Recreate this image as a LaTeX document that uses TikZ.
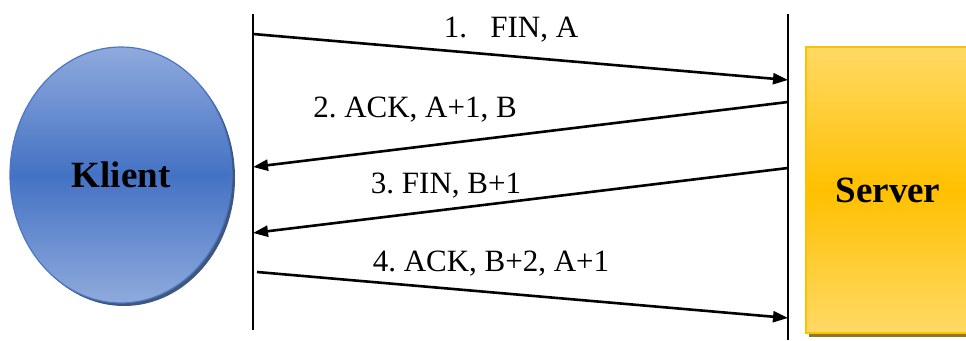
\documentclass[tikz,border=0pt]{standalone}
\usepackage{fontspec}
\setmainfont{Liberation Serif}
\usetikzlibrary{shapes.geometric,arrows.meta,shadows}
\definecolor{blueA}{HTML}{8FAADC}
\definecolor{blueB}{HTML}{4472C4}
\definecolor{blueEdge}{HTML}{4A76C6}
\definecolor{blueShadow}{HTML}{1F3864}
\definecolor{yelA}{HTML}{FFD966}
\definecolor{yelB}{HTML}{FFC000}
\definecolor{yelShadow}{HTML}{7F6000}
\frenchspacing
\begin{document}
\begin{tikzpicture}[x=1pt,y=-1pt,
  party/.style={font=\fontsize{37}{40}\selectfont\bfseries, inner sep=0pt},
  lifeline/.style={line width=1.8pt},
  msg/.style={line width=2.6pt, -{Triangle[length=15pt,width=11pt]}},
  lbl/.style={font=\fontsize{31}{34}\selectfont, inner sep=0pt}]
\useasboundingbox (0,0) rectangle (966,340);
% Klient
\node[party, ellipse, draw=blueEdge, line width=1.2pt,
  minimum width=222pt, minimum height=256pt,
  top color=blueA, bottom color=blueA, middle color=blueB,
  drop shadow={shadow xshift=3pt, shadow yshift=-3pt, fill=blueShadow, opacity=.85}]
  (klient) at (121,175) {Klient};
% Server
\node[party, rectangle, draw=yelB, line width=1.2pt,
  minimum width=164pt, minimum height=286pt,
  top color=yelA, bottom color=yelA, middle color=yelB,
  drop shadow={shadow xshift=3pt, shadow yshift=-4pt, fill=yelShadow, opacity=.85}]
  (server) at (888,190) {Server};
% lifelines
\coordinate (lt) at (253,14);
\coordinate (lb) at (253,330);
\coordinate (rt) at (788,14);
\coordinate (rb) at (788,340);
\draw[lifeline] (lt) -- (lb);
\draw[lifeline] (rt) -- (rb);
% message end points
\coordinate (m1s) at (253,34);  \coordinate (m1e) at (788,80);
\coordinate (m2s) at (788,102); \coordinate (m2e) at (253,167);
\coordinate (m3s) at (788,168); \coordinate (m3e) at (253,233);
\coordinate (m4s) at (257,272); \coordinate (m4e) at (788,318);
\draw[msg] (m1s) -- (m1e);
\draw[msg] (m2s) -- (m2e);
\draw[msg] (m3s) -- (m3e);
\draw[msg] (m4s) -- (m4e);
% labels
\node[lbl] (l1) at (511,30) {1.\ \ \ FIN, A};
\node[lbl] (l2) at (415,110) {2. ACK, A+1, B};
\node[lbl] (l3) at (446,186) {3. FIN, B+1};
\node[lbl] (l4) at (491,264) {4. ACK, B+2, A+1};
\end{tikzpicture}
\end{document}
